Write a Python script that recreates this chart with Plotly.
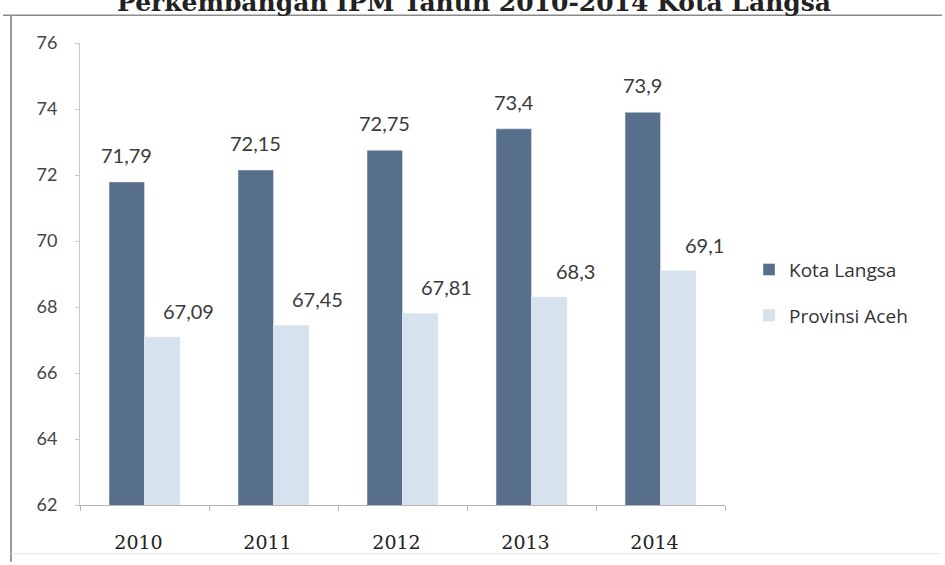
import plotly.graph_objects as go

# IPM (Human Development Index) values, 2010-2014
years = ["2010", "2011", "2012", "2013", "2014"]
kota_langsa = [71.79, 72.15, 72.75, 73.4, 73.9]
provinsi_aceh = [67.09, 67.45, 67.81, 68.3, 69.1]
series_names = ["Kota Langsa", "Provinsi Aceh"]
y_ticks = [62, 64, 66, 68, 70, 72, 74, 76]

DARK = "#586f8b"
LIGHT = "#d6e2ee"
W, H = 945, 565
PLOT_L, PLOT_R, PLOT_T, PLOT_B = 80, 725, 43, 508


def px(x):
    return (x - PLOT_L) / (PLOT_R - PLOT_L)


def py(y):
    return (PLOT_B - y) / (PLOT_B - PLOT_T)


def fmt(v):
    return f"{v:g}".replace(".", ",")


fig = go.Figure()
fig.add_trace(go.Bar(x=years, y=kota_langsa, name=series_names[0],
                     marker_color=DARK, legendgroup="a"))
fig.add_trace(go.Bar(x=years, y=provinsi_aceh, name=series_names[1],
                     marker_color=LIGHT, legendgroup="b"))

# value labels above each bar (x given as category index)
annotations = []
half_bar = 17.7
label_font = dict(family="Lato", size=20, color="#3a3a3a")
for i, v in enumerate(kota_langsa):
    annotations.append(dict(x=i, y=v, xref="x", yref="y", text=fmt(v),
                            showarrow=False, xshift=-half_bar, yshift=27,
                            yanchor="middle", font=label_font))
for i, v in enumerate(provinsi_aceh):
    annotations.append(dict(x=i, y=v, xref="x", yref="y", text=fmt(v),
                            showarrow=False, xshift=half_bar + 26, yshift=26,
                            yanchor="middle", font=label_font))

# heading
annotations.append(dict(x=px(474), y=py(19), xref="paper", yref="paper",
                        text="<b>Perkembangan IPM Tahun 2010-2014 Kota Langsa</b>",
                        showarrow=False, yanchor="bottom", xanchor="center",
                        font=dict(family="DejaVu Serif", size=25, color="#222222")))

# frame lines around the chart
shapes = [
    dict(type="line", xref="paper", yref="paper", x0=px(3), x1=px(942),
         y0=py(15), y1=py(15), line=dict(color="#8a8a8a", width=1.5)),
    dict(type="line", xref="paper", yref="paper", x0=px(11), x1=px(11),
         y0=py(15), y1=py(565), line=dict(color="#9a9a9a", width=2)),
    dict(type="line", xref="paper", yref="paper", x0=px(11), x1=px(940),
         y0=py(557), y1=py(557), line=dict(color="#e2e2e2", width=1)),
]

fig.update_layout(
    width=W, height=H,
    margin=dict(l=PLOT_L, r=W - PLOT_R, t=PLOT_T, b=H - PLOT_B),
    paper_bgcolor="white", plot_bgcolor="white",
    barmode="group", bargap=0.45, bargroupgap=0,
    showlegend=True,
    legend=dict(x=px(749), y=py(252), xanchor="left", yanchor="top",
                traceorder="grouped", tracegroupgap=18,
                font=dict(family="Open Sans", size=19, color="#333333"),
                bgcolor="rgba(0,0,0,0)"),
    annotations=annotations,
    shapes=shapes,
    font=dict(family="Lato", color="#333333"),
)

fig.update_xaxes(
    type="category", range=[-0.5, len(years) - 0.5],
    showline=True, linecolor="#b5b5b5", linewidth=1,
    ticks="outside", tickson="boundaries", ticklen=5, tickcolor="#b5b5b5",
    tickfont=dict(family="DejaVu Serif", size=19, color="#222222"),
    ticklabelstandoff=20, ticklabelshift=-6,
    showgrid=False, zeroline=False,
)
fig.update_yaxes(
    range=[62, 76], tickvals=y_ticks,
    showline=True, linecolor="#c8c8c8", linewidth=1,
    ticks="outside", ticklen=4, tickcolor="#c8c8c8",
    tickfont=dict(family="Lato", size=18, color="#444444"),
    ticklabelstandoff=14,
    showgrid=False, zeroline=False,
)

fig.write_html("out.html")
